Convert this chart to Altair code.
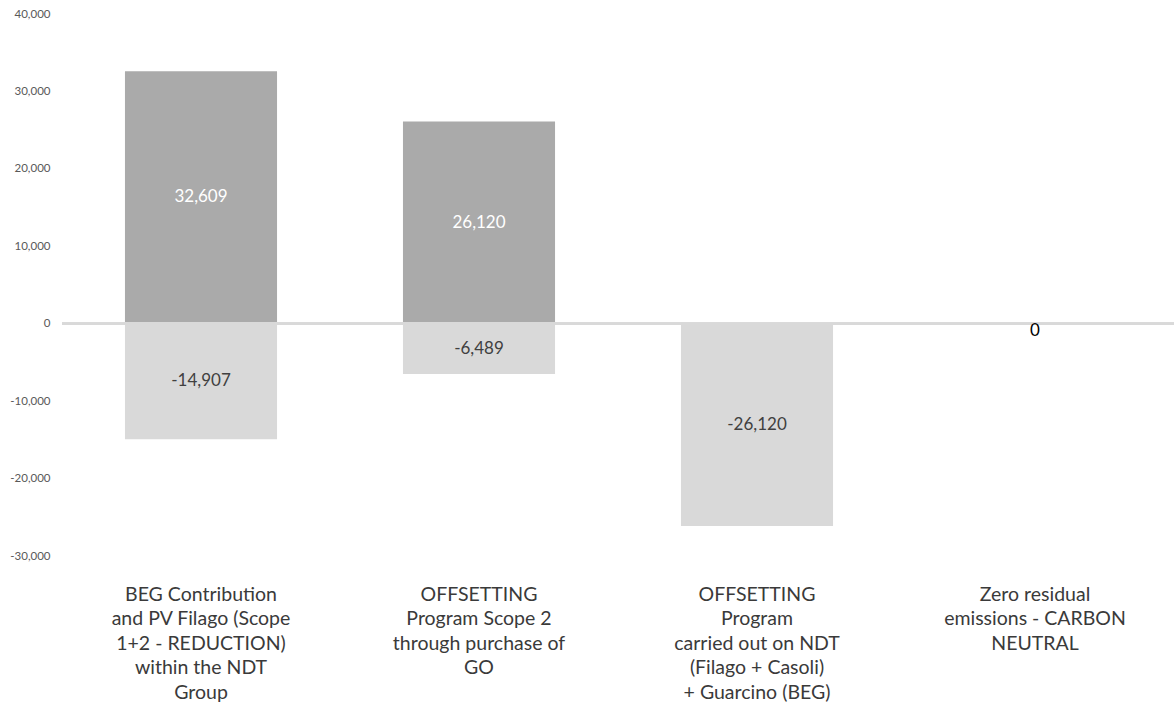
import altair as alt
import pandas as pd

# Categories (line breaks kept in the label text)
categories = [
    "BEG Contribution\nand PV Filago (Scope\n1+2 - REDUCTION)\nwithin the NDT\nGroup",
    "OFFSETTING\nProgram Scope 2\nthrough purchase of\nGO",
    "OFFSETTING\nProgram\ncarried out on NDT\n(Filago + Casoli)\n+ Guarcino (BEG)",
    "Zero residual\nemissions - CARBON\nNEUTRAL",
]

# tCO2e per category
emissions = [32609, 26120, None, None]
reductions = [-14907, -6489, -26120, None]
residual = [None, None, None, 0]

y_ticks = [-30000, -20000, -10000, 0, 10000, 20000, 30000, 40000]

rows = []
for cat, e, r, z in zip(categories, emissions, reductions, residual):
    if e is not None:
        rows.append({"category": cat, "series": "Emissions", "value": e})
    if r is not None:
        rows.append({"category": cat, "series": "Reduction", "value": r})
    if z is not None:
        rows.append({"category": cat, "series": "Residual", "value": z})
df = pd.DataFrame(rows)

FONT = "Lato"
# thousands separator, plain hyphen for negatives
FMT = "replace(format({v}, ',.0f'), '\u2212', '-')"

x_enc = alt.X(
    "category:N",
    sort=categories,
    scale=alt.Scale(paddingInner=0.453, paddingOuter=0.2265),
    axis=alt.Axis(
        title=None,
        labelAngle=0,
        ticks=False,
        domain=False,
        labelExpr="split(datum.label, '\\n')",
        labelFont=FONT,
        labelFontSize=19.5,
        labelLineHeight=24.5,
        labelColor="#3a3a3a",
        labelPadding=29,
        labelBaseline="top",
        labelLimit=320,
        labelOverlap=False,
    ),
)

y_scale = alt.Scale(domain=[-30000, 40000], nice=False)

bars = (
    alt.Chart(df)
    .transform_filter("datum.series != 'Residual'")
    .mark_bar()
    .encode(
        x=x_enc,
        y=alt.Y(
            "value:Q",
            stack=None,
            scale=y_scale,
            axis=alt.Axis(
                title=None,
                values=y_ticks,
                labelExpr=FMT.format(v="datum.value"),
                grid=False,
                ticks=False,
                domain=False,
                labelFont=FONT,
                labelFontSize=11.5,
                labelColor="#595959",
                labelPadding=12,
            ),
        ),
        color=alt.Color(
            "series:N",
            scale=alt.Scale(domain=["Emissions", "Reduction"], range=["#aaaaaa", "#d9d9d9"]),
            legend=None,
        ),
    )
)

zero_line = (
    alt.Chart(df)
    .mark_rule(color="#d9d9d9", strokeWidth=2.5)
    .encode(y=alt.datum(0, scale=y_scale))
)

labels = (
    alt.Chart(df)
    .transform_filter("datum.series != 'Residual'")
    .transform_calculate(mid="datum.value / 2", txt=FMT.format(v="datum.value"))
    .mark_text(font=FONT, fontSize=17)
    .encode(
        x=alt.X("category:N", sort=categories),
        y=alt.Y("mid:Q", scale=y_scale),
        text="txt:N",
        color=alt.Color(
            "series:N",
            scale=alt.Scale(domain=["Emissions", "Reduction"], range=["#ffffff", "#404040"]),
            legend=None,
        ),
    )
)

residual_label = (
    alt.Chart(df)
    .transform_filter("datum.series == 'Residual'")
    .transform_calculate(txt=FMT.format(v="datum.value"))
    .mark_text(font=FONT, fontSize=17, color="#000000", dy=7)
    .encode(
        x=alt.X("category:N", sort=categories),
        y=alt.Y("value:Q", scale=y_scale),
        text="txt:N",
    )
)

chart = (
    alt.layer(bars, zero_line, labels, residual_label)
    .resolve_scale(color="independent")
    .properties(
        width=1112,
        height=542,
        autosize=alt.AutoSizeParams(type="none"),
        padding={"left": 62, "top": 14, "right": 0, "bottom": 149},
        background="#ffffff",
    )
    .configure_view(stroke=None)
)

chart.save("out.html", embed_options={"renderer": "svg", "actions": False})
